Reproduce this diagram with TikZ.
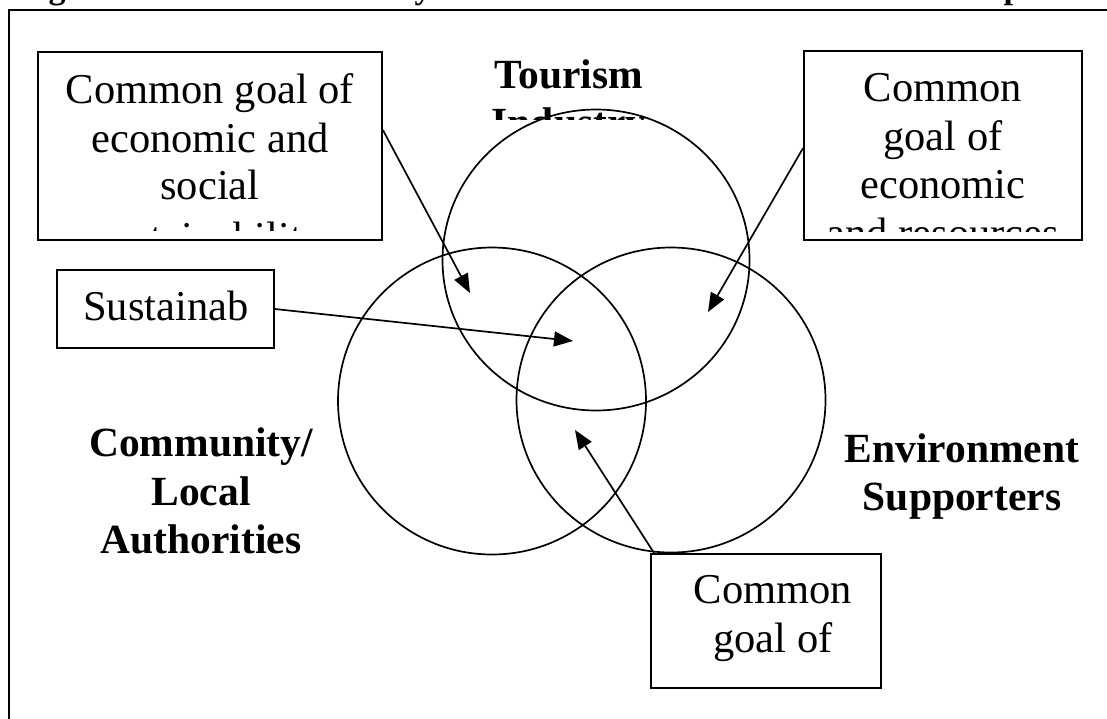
\documentclass[tikz,border=0pt]{standalone}
\usepackage{fontspec}
\setmainfont{Liberation Serif}
\usetikzlibrary{arrows.meta,shapes.geometric}
\begin{document}
\begin{tikzpicture}[x=1pt,y=-1pt,
  frame/.style={line width=2.2pt},
  box/.style={draw, rectangle, line width=1.8pt, inner sep=0pt},
  ring/.style={draw, ellipse, line width=1.7pt, inner sep=0pt},
  btxt/.style={anchor=base, inner sep=0pt, font=\fontsize{42.5}{48}\selectfont},
  lbl/.style={anchor=base, inner sep=0pt, font=\fontsize{41.5}{48}\selectfont\bfseries},
  frag/.style={anchor=base, inner sep=0pt, font=\fontsize{34}{40}\selectfont\bfseries},
  arr/.style={line width=1.7pt, -{Triangle[length=19pt,width=15pt]}}]
\useasboundingbox (0,0) rectangle (1107,718);
\clip (0,0) rectangle (1107,718);

% caption descenders cut at the top
\node[frag] (capg) at (57,-2) {g};
\node[frag] (capy) at (423,-2) {y};
\node[frag] (capp) at (1013,-2) {p};

% outer frame
\draw[frame] (9,10) rectangle (1130,740);

% circles
\node[ring, minimum width=307, minimum height=301] (tour) at (596,260) {};
\node[ring, minimum width=308, minimum height=307] (comm) at (492,401) {};
\node[ring, minimum width=309, minimum height=305] (env) at (671,400) {};

% boxes
\node[box, minimum width=344, minimum height=188] (lbox) at (210,146) {};
\node[box, minimum width=278, minimum height=189] (rbox) at (943,145.5) {};
\node[box, minimum width=217, minimum height=78] (sbox) at (165.5,309) {};
\node[box, minimum width=230, minimum height=134] (bbox) at (766,621) {};

% left box text
\begin{scope}
\clip (40,54) rectangle (380,230);
\node[btxt] (l1) at (210,103) {Common goal of};
\node[btxt] (l2) at (210,152) {economic and};
\node[btxt] (l3) at (210,199) {social};
\node[btxt] (l4) at (210,251) {sustainability};
\end{scope}

% right box text
\begin{scope}
\clip (806,53) rectangle (1080,231);
\node[btxt] (r1) at (943,101) {Common};
\node[btxt] (r2) at (943,150) {goal of};
\node[btxt] (r3) at (943,198) {economic};
\node[btxt] (r4) at (943,247) {and resources};
\end{scope}

% sustainable box text
\node[btxt] (s1) at (166,320) {Sustainab};

% bottom box text
\node[btxt] (b1) at (773,603) {Common};
\node[btxt] (b2) at (773,652) {goal of};

% group labels
\node[lbl] (tl1) at (569,88) {Tourism};
\begin{scope}
\clip (450,90) rectangle (700,119);
\node[lbl] (tl2) at (569,136) {Industry};
\end{scope}
\node[lbl] (cl1) at (201,456) {Community/};
\node[lbl] (cl2) at (201,505) {Local};
\node[lbl] (cl3) at (201,553) {Authorities};
\node[lbl] (el1) at (962,462) {Environment};
\node[lbl] (el2) at (962,510) {Supporters};

% arrow tips
\coordinate (t1) at (470,293);
\coordinate (t2) at (708,312);
\coordinate (t3) at (573,341);
\coordinate (t4) at (575,430);
\coordinate (y1) at (0,130);
\coordinate (y2) at (0,148);

\draw[arr] (lbox.east |- y1) -- (t1);
\draw[arr] (rbox.west |- y2) -- (t2);
\draw[arr] (sbox.east) -- (t3);
\draw[arr] ([xshift=4pt]bbox.north west) -- (t4);
\end{tikzpicture}
\end{document}
